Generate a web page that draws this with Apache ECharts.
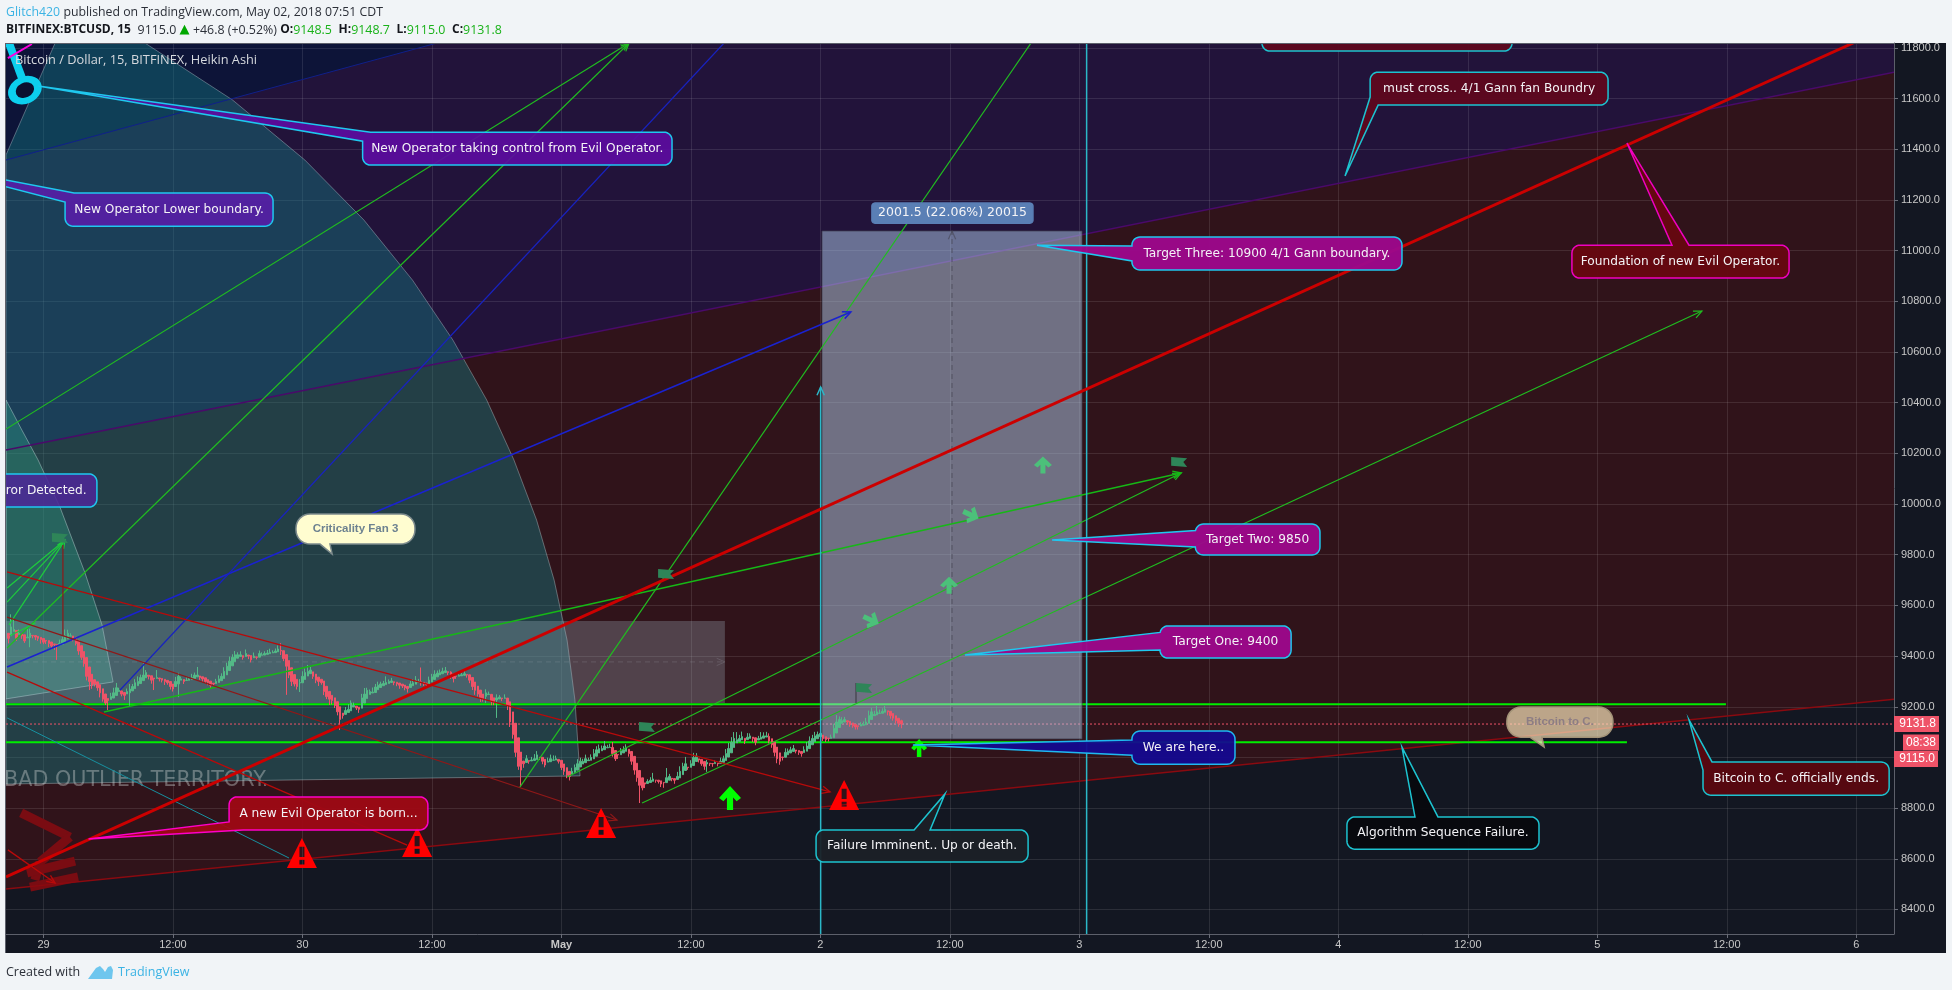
<!DOCTYPE html>
<html><head><meta charset="utf-8">
<style>html,body{margin:0;padding:0;background:#f1f4f7}#c{width:1952px;height:990px}</style>
<script src="https://cdn.jsdelivr.net/npm/echarts@6/dist/echarts.min.js"></script>
</head><body><div id="c"></div><script>
/* ---------- values: x = 15-minute bar number, y = price ---------- */
const xTickBars=[14,62,110,158,206,254,302,350,398,446,494,542,590,638,686];
const xTickLabels=['29','12:00','30','12:00','May','12:00','2','12:00','3','12:00','4','12:00','5','12:00','6'];
const priceTicks=[8400,8600,8800,9000,9200,9400,9600,9800,10000,10200,10400,10600,10800,11000,11200,11400,11600,11800];
const closesApr29a=[9470,9515,9505,9470,9490,9480,9460,9475,9490,9480,9475,9470,9465,9455,9460,9450,9440,9445,9440,9450,9465,9480,9490,9480,9470,9450,9420,9395,9370,9320,9300,9285,9290,9275,9255,9230,9215,9225,9240,9255,9275,9265,9250,9245,9260,9270,9280,9295,9300,9315,9325,9335,9320,9305,9310,9315,9310,9305,9300,9295];
const closesApr29b=[9280,9270,9300,9320,9310,9300,9305,9310,9315,9325,9325,9315,9310,9300,9295,9285,9290,9300,9310,9320,9340,9360,9380,9395,9405,9405,9405,9395,9410,9400,9385,9400,9395,9410,9405,9410,9412,9415,9415,9420,9428];
const closesApr30=[9420,9390,9360,9325,9300,9290,9280,9295,9320,9335,9340,9345,9320,9305,9300,9295,9260,9240,9230,9225,9205,9180,9150,9165,9185,9190,9215,9205,9195,9190,9235,9250,9265,9260,9258,9278,9285,9290,9292,9296,9300,9302,9295,9290,9285,9282,9275,9272,9290,9295,9305,9300,9295,9290,9288,9305,9318,9328,9333,9335,9340,9342,9335,9322,9312,9320,9324,9326,9330,9325,9305,9280,9265,9250,9235,9232,9255,9250,9222,9218,9235,9238,9232,9235,9205];
const closesMay1=[9140,9090,9020,8965,8950,8975,8995,8985,8990,8995,9010,9000,8985,8970,8985,8995,8990,8995,8985,8960,8945,8930,8925,8945,8960,8975,8985,8985,8995,8990,9000,9015,9030,9035,9035,9045,9040,9040,9015,8995,9010,9025,9030,9040,9015,8985,8950,8920,8890,8880,8895,8905,8910,8915,8910,8905,8895,8900,8920,8925,8915,8910,8925,8945,8965,8975,8960,8975,9000,9005,8990,8975,8965,8980,8975,8975,8980,8975,8985,8995,9015,9035,9060,9075,9070,9075,9082,9065,9080,9085,9075,9060,9075,9080,9085,9085,9065,9050,9020,8995,8985,9000,9020,9025,9030,9035,9025,9020,9015,9030,9045,9065,9075,9085,9090];
const closesMay2=[9095,9075,9070,9075,9080,9115,9140,9150,9145,9150,9140,9130,9125,9120,9122,9130,9130,9140,9165,9180,9170,9180,9175,9182,9190,9180,9165,9155,9145,9135,9131.8];
const firstOpen=9490;
const wickSizes=[20,30,25,10,15,12,8,14,18,10,12,10,16,8,12,14,10,20,9,15,12,18,14,10,12,8,15,10,12,16,8,14,10,12,18,10,8,12,15,20,14,10,9,18,12,16,10,14,20,12,16,10,12,14,8,12,10,9,14,8,12,10,18,14,9,10,12,8,15,10,16,9,12,8,10,14,8,10,14,12,16,14,18,12,15,10,14,9,16,12,10,14,8,12,10,9,12,14,8,10,14,16,10,14,12,18,10,12,14,20,16,12,14,10,12,18,8,14,10,12,16,10,14,18,12,14,20,10,12,8,14,16,12,10,8,18,12,14,9,10,14,8,12,10,9,14,8,10,16,12,14,16,10,12,8,10,14,12,16,10,12,14,9,10,12,16,10,12,8,14,10,12,14,18,10,16,12,14,10,16,12,14,8,10,14,18,20,16,18,14,12,16,14,10,12,18,14,10,12,9,14,16,10,12,9,10,14,12,16,14,12,18,14,10,16,9,12,18,14,16,12,20,10,14,12,9,16,12,14,10,12,14,18,16,12,10,16,9,12,14,10,8,12,14,16,10,9,14,18,20,14,16,9,14,18,12,10,8,14,10,9,12,8,10,14,12,18,22,20,16,18,14,20,12,16,10,14,12,10,18,14,16,10,12,16,18,14,12,16,10,12,14,9,10,12,14,16,18,14,16,12,14,10,9,12,10,18,20,12,14,10,12,9,8,10,12,9,12,16,20,16,14,12,14,12,10,14,12,10,12,14,10];
const highMarks=[[2,9565],[3,9550],[8,9510],[22,9505],[41,9294],[46,9290],[51,9373],[56,9345],[71,9357],[89,9424],[102,9451],[112,9365],[133,9274],[141,9320],[154,9355],[163,9357],[165,9340],[197,9025],[203,9008],[218,9030],[225,9061],[230,9052],[240,8939],[245,8958],[252,9002],[256,9012],[268,9040],[270,9100],[271,9100],[275,9096],[280,9100],[283,9095],[308,9167],[323,9203],[326,9203],[332,9148.7]];
const lowMarks=[[9,9435],[19,9385],[31,9266],[38,9187],[46,9200],[55,9266],[64,9238],[104,9247],[109,9258],[120,9207],[124,9108],[178,9215],[182,9156],[191,8885],[226,8990],[235,8820],[244,8880],[260,8943],[287,8975],[332,9115]];

/* drawings: [bar1,price1,bar2,price2,hasArrow] */
const thickGreenRows=[[0.1,9209.6,637.7,9209.6,0],[0.1,9059.7,601,9059.7,0]];
const lastPriceRows=[[0.1,9131.8,700,9131.8,0]];
const thickRedRows=[[0.1,8528,684.9,11820,0]];
const purpleEdgeRows=[[0.1,10213,700,11705,0]];
const darkRedEdgeRows=[[0.1,8481,700,9230,0]];
const thinGreenRows=[[0.1,10296,231.1,11820,1],[0.5,9432,231.1,11820,1],[190.6,8883,380.1,11820,0],[208.1,8923,435.7,10123,1],[235.9,8820,628.8,10762,1]];
const midGreenRows=[[36.4,9179,435.7,10123,1]];
const fanGreenRows=[[0.5,9669,22,9858,0],[0.5,9613,22,9858,0],[1.2,9523,22,9858,1],[1.5,9480,11,9530,0]];
const blueRows=[[0.5,9357,313.3,10758,1]];
const blueThinRows=[[42.4,9266,266.3,11820,0]];
const navyRows=[[0.1,11358,159.9,11820,0]];
const redRows=[[0.5,9732,305.6,8864,1],[0.5,9337,148.8,8654,0],[0.8,8635,18.3,8504,1]];
const dimRedRows=[[0.5,9554,226.6,8753,1],[21.2,9483,21.2,9838,0]];
const tealRows=[[0.5,9156,105,8603,0]];
const cyanVerticalRows=[[302.1,8303,302.1,10462,1],[400.7,8303,400.7,11820,0]];
const rangeMidRows=[[0.1,9377,266.6,9377,1]];
const rectMidRows=[[350.8,9073,350.8,11078,1]];
const flagPoleRows=[[315.2,9215,315.2,9294,0]];
const glyphRows=[[5.7,8781,23.8,8686,0],[23.8,8686,12.7,8587,0],[12.7,8587,10.8,8516,0],[7.9,8544,25.7,8591,0],[9,8488,26.8,8528,0]];
const keyRows=[[1.2,11820,6,11682,0]];
const magentaRows=[[0.8,11760,9.7,11816,0]];

const redBand=[[0.1,10213],[700,11705],[700,9230],[0.1,8481]];
const purpleBand=[[0.1,10213],[700,11705],[700,11820],[0.1,11820]];
const navyBand=[[0.1,11358],[159.9,11820],[0.1,11820]];
const outerFan=[[18.3,11820],[51.6,11820],[84.1,11595],[110.9,11358],[132.8,11121],[150.8,10884],[165.8,10647],[178.3,10411],[188.4,10174],[196.8,9937],[203.3,9700],[208.1,9463],[211,9227],[212.9,8927],[0.1,8895],[0.1,11378]];
const innerFan=[[0.1,10411],[6,10292],[12,10174],[20.1,9988],[29.4,9728],[35.7,9523],[39.8,9298],[0.1,9231]];
const rangeBox=[[0.1,9538],[266.6,9538],[266.6,9215],[0.1,9215]];
const targetBox=[[302.6,11078],[399,11078],[399,9073],[302.6,9073]];

const warningPoints=[[109.8,8623],[152.5,8666],[220.7,8741],[310.8,8852]];
const limeArrowPoints=[[268.5,8840],[338.6,9037]];
const fadedUpArrowPoints=[[349.7,9680],[384.5,10154]];
const fadedSideArrowPoints=[[320.8,9542],[357.8,9957]];
const flagPoints=[[20.1,9866],[237.7,9120],[244.8,9724],[435,10166],[318.2,9274]];
const keyRingPoint=[[7.1,11634]];

/* callouts: text, box [left,right,top,bottom], tail tip, tail base a, tail base b */
const calloutTexts=['New Operator taking control from Evil Operator.','New Operator Lower boundary.','Error Detected.','Criticality Fan 3','A new Evil Operator is born...','Failure Imminent.. Up or death.','We are here..','Algorithm Sequence Failure.','Bitcoin to C. officially ends.','Bitcoin to C.','Target Three: 10900 4/1 Gann boundary.','must cross.. 4/1 Gann fan Boundry','Foundation of new Evil Operator.','','Target Two: 9850','Target One: 9400','2001.5 (22.06%) 20015'];
const calloutBoxes=[[132.3,247,11468,11338],[22,99.1,11228,11097],[-8.4,33.8,10119,9988],[107.6,151.7,9961,9842],[82.8,156.5,8844,8714],[300.4,379,8714,8587],[417.5,455.7,9104,8973],[497.2,568.4,8765,8638],[629.2,698.2,8982,8851],[556.5,595.8,9199,9080],[417.5,517.6,11054,10924],[505.8,594,11705,11575],[580.6,661.1,11022,10892],[465.7,558.4,11918,11788],[441,487.2,9921,9799],[427.9,476.5,9519,9392],[321.1,380.8,11188,11109]];
const calloutTails=[[[12,11650],[135,11468],[132.3,11433]],[[-36.6,11354],[25.3,11228],[22,11192]],null,[[121,9803],[116.5,9842],[120.2,9842]],[[30.7,8678],[82.8,8745],[88,8714]],[[348.2,8856],[336.7,8714],[342.6,8714]],[[336.3,9049],[417.5,9069],[417.5,9010]],[[517.6,9041],[522.4,8765],[531,8765]],[[624,9148],[629.2,8950],[632.5,8982]],[[570.3,9041],[565,9080],[569.5,9080]],[[382.3,11022],[417.5,11019],[417.5,10959]],[[496.5,11295],[505.8,11607],[508.5,11575]],[[601,11425],[617.7,11022],[624,11022]],null,[[387.9,9858],[441,9894],[441,9830]],[[355.6,9404],[427.9,9491],[427.9,9424]],null];
const calloutFills=['rgba(92,12,160,.92)','rgba(86,30,165,.92)','rgba(76,40,150,.88)','#fffdd0','rgba(158,8,20,.94)','rgba(28,32,38,.94)','rgba(20,8,145,.94)','rgba(8,9,14,.96)','rgba(90,8,16,.96)','rgba(255,235,190,.68)','rgba(156,8,138,.96)','rgba(94,8,30,.96)','rgba(102,8,16,.96)','rgba(94,8,30,.96)','rgba(156,8,138,.96)','rgba(156,8,138,.96)','#5a7fb5'];
const calloutBorders=['#1fc8ef','#1fc8ef','#1fc8ef','#7c8a8c','#ff00c8','#1dc3d0','#1fb8f0','#1dc3d0','#1dc3d0','#a39378','#1fc8ef','#1dc3d0','#f000c0','#1dc3d0','#1fc8ef','#1fc8ef','#5a7fb5'];
const calloutRadius=[8,8,8,14,8,8,8,8,8,14,8,8,8,8,8,8,3];
const calloutFonts=Array.from({length:17},(_,i)=>(i===3||i===9)?'bold 11.5px "Liberation Sans"':(i===16?'12.5px "DejaVu Sans"':'12.2px "DejaVu Sans"'));
const calloutTextColors=calloutTexts.map((_,i)=>i===3?'#6d8290':i===9?'#8d7d84':'#f3f3f6');

const priceTagTexts=['9131.8','08:38','9115.0'];
const priceTagLevels=[9131.8,9059,8994];
const priceTagInsets=[0,9,0];
const priceTagWidths=[45,36,44];

const watermarkText='BAD OUTLIER TERRITORY.';
const watermarkPoint=[-0.6,8907];
const logoOutline=[[88,979],[96,968],[100,966],[103,969],[105,972],[108,967],[111,966],[113,970],[112,979]];

/* ---------- candles: Heikin Ashi opens follow from the previous bar ---------- */
const closes=[...closesApr29a,...closesApr29b,...closesApr30,...closesMay1,...closesMay2];
const hiMap=new Map(highMarks), loMap=new Map(lowMarks);
let prevOpen=firstOpen, prevClose=firstOpen;
const candles=closes.map((c,i)=>{const bar=i+1,o=(prevOpen+prevClose)/2,w=wickSizes[i],up=c>=o;
  prevOpen=o;prevClose=c;
  const hi=Math.max(o,c,up?Math.max(o,c)+w:-Infinity,hiMap.has(bar)?hiMap.get(bar):-Infinity);
  const lo=Math.min(o,c,up?Infinity:Math.min(o,c)-w,loMap.has(bar)?loMap.get(bar):Infinity);
  return [bar,o,c,lo,hi];});

/* ---------- series helpers ---------- */
function lineSeries(name,rows,color,width,z,dash){return{type:'custom',name,data:rows,z,clip:true,silent:true,animation:false,
  renderItem(p,api){const a=api.coord([api.value(0),api.value(1)]),b=api.coord([api.value(2),api.value(3)]);
    const st={stroke:color,lineWidth:width,fill:null,lineDash:dash||null,lineCap:'butt'};
    const kids=[{type:'line',shape:{x1:a[0],y1:a[1],x2:b[0],y2:b[1]},style:st}];
    if(api.value(4)){const t=Math.atan2(b[1]-a[1],b[0]-a[0]),L=9,s=.42;
      kids.push({type:'polyline',shape:{points:[[b[0]-L*Math.cos(t-s),b[1]-L*Math.sin(t-s)],b,[b[0]-L*Math.cos(t+s),b[1]-L*Math.sin(t+s)]]},style:{stroke:color,lineWidth:width,fill:null}});}
    return{type:'group',children:kids};}};}
function polySeries(name,pts,fill,z,stroke){return{type:'custom',name,data:[[0]],z,clip:true,silent:true,animation:false,
  renderItem(p,api){return{type:'polygon',shape:{points:pts.map(q=>api.coord(q))},style:{fill,stroke:stroke||null,lineWidth:stroke?1:0}};}};}
function perimeter(l,t,r,b,rad){const o=[];
  const edge=(x1,y1,x2,y2)=>{const n=Math.max(1,Math.round(Math.hypot(x2-x1,y2-y1)));for(let i=0;i<n;i++)o.push([x1+(x2-x1)*i/n,y1+(y2-y1)*i/n]);};
  const arc=(cx,cy,a0)=>{for(let i=0;i<8;i++){const a=a0+i/8*Math.PI/2;o.push([cx+rad*Math.cos(a),cy+rad*Math.sin(a)]);}};
  edge(l+rad,t,r-rad,t);arc(r-rad,t+rad,-Math.PI/2);edge(r,t+rad,r,b-rad);arc(r-rad,b-rad,0);edge(r-rad,b,l+rad,b);arc(l+rad,b-rad,Math.PI/2);edge(l,b-rad,l,t+rad);arc(l+rad,t+rad,Math.PI);
  return o;}
function nearest(pts,q){let bi=0,bd=1e12;pts.forEach((p,i)=>{const d=(p[0]-q[0])**2+(p[1]-q[1])**2;if(d<bd){bd=d;bi=i;}});return bi;}
function withTail(pts,tip,a,b){const n=pts.length,ia=nearest(pts,a),ib=nearest(pts,b),out=[];
  const d=(ib-ia+n)%n;let s,e;if(d<=n/2){s=ib;e=ia;}else{s=ia;e=ib;}
  for(let i=s;;i=(i+1)%n){out.push(pts[i]);if(i===e)break;}
  out.push(tip);return out;}
const calloutSeries={type:'custom',name:'Callouts',data:calloutTexts.map((_,i)=>[i]),z:9,clip:true,silent:true,animation:false,
  renderItem(p,api){const i=p.dataIndex,B=calloutBoxes[i],lt=api.coord([B[0],B[2]]),rb=api.coord([B[1],B[3]]);
    let pts=perimeter(lt[0],lt[1],rb[0],rb[1],calloutRadius[i]);
    if(calloutTails[i]){const T=calloutTails[i];pts=withTail(pts,api.coord(T[0]),api.coord(T[1]),api.coord(T[2]));}
    return{type:'group',children:[
      {type:'polygon',shape:{points:pts},style:{fill:calloutFills[i],stroke:calloutBorders[i],lineWidth:1.5}},
      {type:'text',x:(lt[0]+rb[0])/2,y:(lt[1]+rb[1])/2,style:{text:calloutTexts[i],fill:calloutTextColors[i],font:calloutFonts[i],align:'center',verticalAlign:'middle'}}]};}};
const tagSeries={type:'custom',name:'Price tags',data:priceTagTexts.map((_,i)=>[i]),z:12,clip:false,silent:true,animation:false,
  renderItem(p,api){const i=p.dataIndex,c=api.coord([700,priceTagLevels[i]]),x=c[0]+priceTagInsets[i];
    return{type:'group',children:[
      {type:'rect',shape:{x,y:c[1]-8,width:priceTagWidths[i],height:16},style:{fill:'#ef5368'}},
      {type:'text',x:x+priceTagWidths[i]-3,y:c[1],style:{text:priceTagTexts[i],fill:'#fff',font:'12px "Liberation Sans"',align:'right',verticalAlign:'middle'}}]};}};
const watermarkSeries={type:'custom',name:'Watermark',data:[[0]],z:3,clip:true,silent:true,animation:false,
  renderItem(p,api){const c=api.coord(watermarkPoint);return{type:'text',x:c[0],y:c[1],style:{text:watermarkText,fill:'rgba(200,205,205,.42)',font:'20.7px "DejaVu Sans"',align:'left',verticalAlign:'middle'}};}};
function markSeries(name,pts,path,size,color,z,rotate){return{type:'scatter',name,data:pts,symbol:path,symbolSize:size,symbolRotate:rotate||0,itemStyle:{color,opacity:1},z,silent:true,animation:false,clip:true};}
const warningPath='path://M50 4 L98 92 L2 92 Z M42 30 L42 60 L58 60 L58 30 Z M42 68 L42 82 L58 82 L58 68 Z';
const upArrowPath='path://M50 0 L100 50 L80 64 L64 48 L64 100 L36 100 L36 48 L20 64 L0 50 Z';
const flagPath='path://M0 0 L100 12 L76 50 L100 100 L0 88 Z';

const series=[
  polySeries('Red fan',redBand,'#30131a',1),
  polySeries('Purple fan',purpleBand,'#22133a',1),
  polySeries('Navy fan',navyBand,'#0d1438',1),
  polySeries('Outer arc',outerFan,'rgba(20,125,130,.42)',3,'rgba(190,205,210,.4)'),
  polySeries('Inner arc',innerFan,'rgba(50,170,140,.35)',3,'rgba(190,215,215,.45)'),
  watermarkSeries,
  lineSeries('Glyph',glyphRows,'#7a0c12',9,3),
  lineSeries('Upper fan edge',purpleEdgeRows,'#4a0a6a',1.5,4),
  lineSeries('Lower fan edge',darkRedEdgeRows,'#8a0a10',1.5,4),
  lineSeries('Support lines',thickGreenRows,'#00ee00',2,4),
  lineSeries('Last price',lastPriceRows,'#ef5368',1,4,[2,2]),
  polySeries('Date range',rangeBox,'rgba(170,190,205,.28)',5),
  polySeries('Target box',targetBox,'rgba(175,205,235,.5)',5,'rgba(60,60,75,.7)'),
  lineSeries('Range middle',rangeMidRows,'rgba(190,195,205,.18)',1,5,[5,4]),
  lineSeries('Target middle',rectMidRows,'rgba(70,70,85,.6)',1.2,5,[5,4]),
  {type:'candlestick',name:'BTCUSD',data:candles,encode:{x:0,y:[1,2,3,4]},barWidth:2,z:6,clip:true,silent:true,animation:false,large:false,
   itemStyle:{color:'#53b987',color0:'#ef5368',borderColor:'#53b987',borderColor0:'#ef5368',borderWidth:1}},
  lineSeries('Navy line',navyRows,'#10208a',1,7),
  lineSeries('Thin green',thinGreenRows,'#20bd20',1.2,7),
  lineSeries('Mid green',midGreenRows,'#16b816',1.5,7),
  lineSeries('Fan green',fanGreenRows,'#1ecc3c',1.2,7),
  lineSeries('Blue',blueRows,'#1a22d0',1.5,7),
  lineSeries('Blue thin',blueThinRows,'#1822c0',1.2,7),
  lineSeries('Red',redRows,'#b80a0a',1.3,7),
  lineSeries('Dim red',dimRedRows,'#8f1818',1.2,7),
  lineSeries('Teal',tealRows,'#1790a0',1,7),
  lineSeries('Cyan verticals',cyanVerticalRows,'#2bb8c8',1.5,7),
  lineSeries('Thick red',thickRedRows,'#cc0000',3,7),
  lineSeries('Flag pole',flagPoleRows,'#4a4a55',1.5,7),
  lineSeries('Key',keyRows,'#0ccfee',8,8),
  lineSeries('Magenta',magentaRows,'#ff00e0',2,8),
  {type:'scatter',name:'Key ring',data:keyRingPoint,symbol:'circle',symbolSize:[27,21],symbolRotate:25,itemStyle:{color:'#0b1030',borderColor:'#0ccfee',borderWidth:7,opacity:1},z:8,silent:true,animation:false},
  markSeries('Flags',flagPoints,flagPath,[16,10],'#2e8558',8),
  markSeries('Warnings',warningPoints,warningPath,[30,30],'#ff0000',8),
  markSeries('Lime arrows',limeArrowPoints,upArrowPath,(v,p)=>p.dataIndex?[16,18]:[22,24],'#00ff00',8),
  markSeries('Faded up arrows',fadedUpArrowPoints,upArrowPath,[18,17],'#4cc07a',8),
  markSeries('Faded side arrows',fadedSideArrowPoints,upArrowPath,[18,17],'#4cc07a',8,-115),
  calloutSeries,tagSeries
];

const chrome=[
  {type:'rect',shape:{x:6,y:43,width:1940,height:910},style:{fill:'#131722'},z:-10,silent:true},
  {type:'line',shape:{x1:6,y1:43.5,x2:1894,y2:43.5},style:{stroke:'#5d606b',lineWidth:1},z:20,silent:true},
  {type:'line',shape:{x1:5.5,y1:43,x2:5.5,y2:953},style:{stroke:'#5d606b',lineWidth:1},z:20,silent:true},
  {type:'text',x:6,y:12,z:20,silent:true,style:{text:'{a|Glitch420} {b|published on TradingView.com, May 02, 2018 07:51 CDT}',verticalAlign:'middle',rich:{a:{fill:'#3bb3e4',font:'12.3px "Open Sans"'},b:{fill:'#2b2f38',font:'12.3px "Open Sans"'}}}},
  {type:'text',x:6,y:30,z:20,silent:true,style:{text:'{k|BITFINEX:BTCUSD, 15}  {n|9115.0} {u|▲} {n|+46.8 (+0.52%)} {k|O:}{g|9148.5}  {k|H:}{g|9148.7}  {k|L:}{g|9115.0}  {k|C:}{g|9131.8}',verticalAlign:'middle',rich:{k:{fill:'#14161c',font:'bold 12px "Open Sans"'},n:{fill:'#2b2f38',font:'12.4px "Open Sans"'},u:{fill:'#00a800',font:'13px "DejaVu Sans"'},g:{fill:'#19b219',font:'12.4px "Open Sans"'}}}},
  {type:'text',x:15,y:60,z:20,silent:true,style:{text:'Bitcoin / Dollar, 15, BITFINEX, Heikin Ashi',fill:'#d6d9de',font:'12.8px "Open Sans"',verticalAlign:'middle'}},
  {type:'text',x:6,y:972,z:20,silent:true,style:{text:'Created with',fill:'#2b2f38',font:'12.5px "Open Sans"',verticalAlign:'middle'}},
  {type:'polygon',z:20,silent:true,shape:{points:logoOutline},style:{fill:'#6ec6ee'}},
  {type:'text',x:118,y:972,z:20,silent:true,style:{text:'TradingView',fill:'#3bb3e4',font:'12.5px "Open Sans"',verticalAlign:'middle'}}
];

const tickLookup=new Map(xTickBars.map((b,i)=>[b,xTickLabels[i]]));
const chart=echarts.init(document.getElementById('c'),null,{renderer:'canvas'});
chart.setOption({animation:false,backgroundColor:'transparent',graphic:{elements:chrome},
  grid:{left:6,top:43,right:58,bottom:56,containLabel:false},
  xAxis:{type:'value',min:0.1,max:700,z:2,
    axisLine:{onZero:false,lineStyle:{color:'#5d606b',width:1}},
    axisTick:{customValues:xTickBars,length:4,lineStyle:{color:'#6a6d78'}},
    splitLine:{show:true,lineStyle:{color:'rgba(255,255,255,.1)',width:1}},
    axisLabel:{customValues:xTickBars,margin:5,color:'#c8c8c8',fontFamily:'Liberation Sans',fontSize:11,
      formatter:v=>{const s=tickLookup.get(v);return s==='May'?'{b|May}':s;},rich:{b:{fontWeight:'bold',color:'#c8c8c8',fontFamily:'Liberation Sans',fontSize:11}}}},
  yAxis:{type:'value',position:'right',min:8303,max:11820,z:2,
    axisLine:{show:true,onZero:false,lineStyle:{color:'#5d606b',width:1}},
    axisTick:{show:true,customValues:priceTicks,length:4,lineStyle:{color:'#6a6d78'}},
    splitLine:{show:true,lineStyle:{color:'rgba(255,255,255,.1)',width:1}},
    axisLabel:{customValues:priceTicks,margin:7,padding:[2,0,0,0],color:'#c8c8c8',fontFamily:'Liberation Sans',fontSize:11,formatter:v=>v.toFixed(1)}},
  series});
</script></body></html>
